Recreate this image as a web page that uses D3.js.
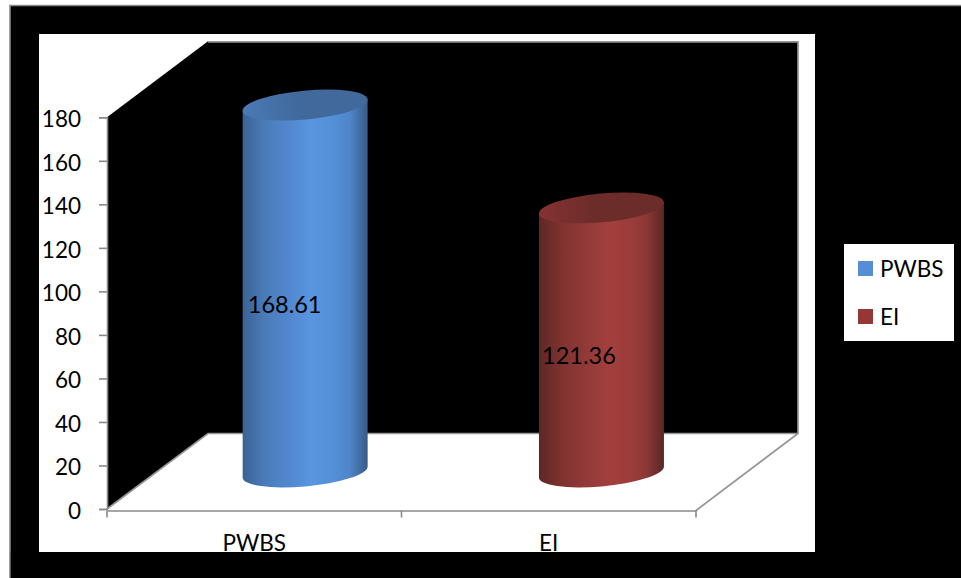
<!DOCTYPE html>
<html>
<head>
<meta charset="utf-8">
<script src="https://cdn.jsdelivr.net/npm/d3@7"></script>
<style>
html,body{margin:0;padding:0;background:#fff;overflow:hidden}
svg{display:block}
text{font-family:Lato,"Open Sans",sans-serif;fill:#000}
</style>
</head>
<body>
<svg id="chart" width="961" height="578"></svg>
<script>
const categories = ["PWBS", "EI"];
const values = [168.61, 121.36];
const valueTicks = [0, 20, 40, 60, 80, 100, 120, 140, 160, 180];
const bodyStops = [
  ["#3b6295", "#5d2725"],
  ["#4a7cba", "#7f3230"],
  ["#5288d0", "#923a38"],
  ["#5995e0", "#a23f3d"],
  ["#5490d8", "#9c3d3b"],
  ["#4f85c9", "#8c3836"],
  ["#395a85", "#5a2624"]
];
const bodyOffsets = [0, 0.18, 0.38, 0.55, 0.72, 0.86, 1];
const capColors = [["#4a7ab6", "#41699b"], ["#853331", "#6b2c2a"]];
const legendColors = ["#558ed5", "#953735"];
const fontStack = 'Lato,"Open Sans",sans-serif';
const fontSize = 22.5;

const svg = d3.select("#chart");
const defs = svg.append("defs");

const axisGray = "#8a8a8a";
const y = d3.scaleLinear().domain([0, 180]).range([509, 117.3]);
const xFront = d3.scaleBand().domain(categories).range([107, 696]);
const xCylinder = d3.scaleBand().domain(categories).range([157, 749.6]);

// Depth of the 3D box and how far the cylinders sit behind the front edge
const depthX = 101, depthY = 75.5, floorShift = 37;
const rx = 62.75, ry = 14.4, tilt = -5.3;

// Outer frame
svg.append("rect").attr("x", 10).attr("y", 5).attr("width", 951).attr("height", 573)
  .attr("fill", "#000");
svg.append("path").attr("d", "M10,578V5.5H961").attr("fill", "none")
  .attr("stroke", axisGray).attr("stroke-width", 1.6);

// Chart area
const area = { x: 39, y: 34, w: 776, h: 518 };
svg.append("rect").attr("x", area.x).attr("y", area.y).attr("width", area.w).attr("height", area.h)
  .attr("fill", "#fff");

// Back and side walls
const x0 = xFront.range()[0], x1 = xFront.range()[1];
const yBase = y(0), yTop = y(180);
const wall = d3.path();
wall.moveTo(x0, yTop);
wall.lineTo(x0 + depthX, yTop - depthY - 0.5);
wall.lineTo(x1 + depthX + 1, yTop - depthY - 0.5);
wall.lineTo(x1 + depthX + 1, yBase - depthY);
wall.lineTo(x0 + depthX, yBase - depthY);
wall.lineTo(x0, yBase);
wall.closePath();
svg.append("path").attr("d", wall.toString()).attr("fill", "#000");

// Wall and floor outlines
const outline = d3.path();
outline.moveTo(x0 + depthX, yTop - depthY);
outline.lineTo(x1 + depthX + 1, yTop - depthY);
outline.lineTo(x1 + depthX + 1, yBase - depthY);
outline.lineTo(x0 + depthX, yBase - depthY);
outline.lineTo(x0, yBase);
outline.moveTo(x1, yBase + 1.5);
outline.lineTo(x1 + depthX + 1, yBase - depthY);
svg.append("path").attr("d", outline.toString()).attr("fill", "none")
  .attr("stroke", "#969696").attr("stroke-width", 1.7);

// Axes
const yAxis = d3.axisLeft(y).tickValues(valueTicks).tickSize(8).tickPadding(18);
const gy = svg.append("g").attr("transform", `translate(${x0},0)`).call(yAxis);
gy.selectAll("path").attr("stroke", axisGray).attr("stroke-width", 1.6);
gy.selectAll("line").attr("stroke", axisGray).attr("stroke-width", 1.6);
gy.selectAll("text").attr("font-size", fontSize).attr("fill", "#000").attr("dy", "0.42em")
  .style("font-family", fontStack);

const xAxis = d3.axisBottom(xFront).tickSize(0).tickPadding(25);
const gx = svg.append("g").attr("transform", `translate(0,${yBase + 1.5})`).call(xAxis);
gx.select("path").attr("stroke", axisGray).attr("stroke-width", 1.6);
gx.selectAll("text").attr("font-size", fontSize).attr("fill", "#000")
  .style("font-family", fontStack);
// Category separators: at the two ends of the band range and between the bands
const separators = [x0, xFront(categories[1]), x1];
gx.selectAll("line.sep").data(separators).join("line").attr("class", "sep")
  .attr("x1", d => d).attr("x2", d => d).attr("y1", 0).attr("y2", 7)
  .attr("stroke", axisGray).attr("stroke-width", 1.6);

// Cylinders
const rad = tilt * Math.PI / 180;
const c = Math.cos(rad), s = Math.sin(rad);
const xExt = Math.sqrt(rx * rx * c * c + ry * ry * s * s);
const yAtExt = (rx * rx - ry * ry) * s * c / xExt;

categories.forEach((cat, i) => {
  const bodyId = `body-${i}`, capId = `cap-${i}`;
  const grad = defs.append("linearGradient").attr("id", bodyId);
  bodyOffsets.forEach((o, k) => grad.append("stop")
    .attr("offset", o).attr("stop-color", bodyStops[k][i]));
  const capGrad = defs.append("linearGradient").attr("id", capId);
  capGrad.append("stop").attr("offset", 0).attr("stop-color", capColors[i][0]);
  capGrad.append("stop").attr("offset", 0.45).attr("stop-color", capColors[i][1]);

  const cx = xCylinder(cat) + xCylinder.bandwidth() / 2;
  const yBottom = y(0) - floorShift;
  const yCap = y(values[i]) - floorShift;
  const g = svg.append("g");

  const left = cx - xExt, right = cx + xExt;
  const arc = `A${rx},${ry} ${tilt} 1 1 ${left},${yBottom - yAtExt}`;
  const d = `M${left},${yCap - yAtExt}L${right},${yCap + yAtExt}L${right},${yBottom + yAtExt}${arc}Z`;
  g.append("path").attr("d", d).attr("fill", `url(#${bodyId})`);
  g.append("ellipse").attr("cx", 0).attr("cy", 0).attr("rx", rx).attr("ry", ry)
    .attr("transform", `translate(${cx},${yCap}) rotate(${tilt})`)
    .attr("fill", `url(#${capId})`);
});

// Value labels
const labelOffsets = [-20.5, -22.5];
categories.forEach((cat, i) => {
  const cx = xCylinder(cat) + xCylinder.bandwidth() / 2;
  const mid = (y(values[i]) - floorShift + y(0) - floorShift) / 2;
  svg.append("text").attr("x", cx + labelOffsets[i]).attr("y", mid + 24)
    .attr("text-anchor", "middle").attr("font-size", 23.5).text(values[i].toFixed(2));
});

// Band below the chart area hides the lower part of the category labels
svg.append("rect").attr("x", 10.8).attr("y", area.y + area.h).attr("width", 950.2).attr("height", 578 - area.y - area.h)
  .attr("fill", "#000");

// Legend
const legend = svg.append("g");
legend.append("rect").attr("x", 844).attr("y", 244).attr("width", 110).attr("height", 97).attr("fill", "#fff");
const legendY = d3.scalePoint().domain(categories).range([268.5, 316.5]);
categories.forEach((cat, i) => {
  legend.append("rect").attr("x", 858).attr("y", legendY(cat) - 7.5).attr("width", 15).attr("height", 15)
    .attr("fill", legendColors[i]);
  legend.append("text").attr("x", 880).attr("y", legendY(cat) + 8).attr("font-size", fontSize).text(cat);
});
</script>
</body>
</html>
